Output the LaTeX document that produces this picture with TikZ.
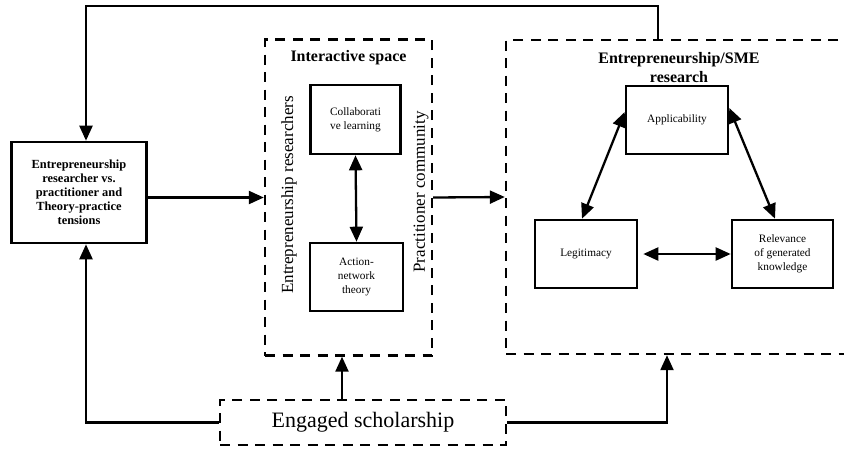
\documentclass[tikz,border=0pt]{standalone}
\usepackage{fontspec}
\setmainfont{Liberation Serif}
\usetikzlibrary{arrows.meta}

\begin{document}
\begin{tikzpicture}[x=1pt, y=-1pt,
	solidbox/.style={draw, line width=2.6pt, align=center, inner sep=2pt, font=\fontsize{11.3}{14}\selectfont},
	dashbox/.style={draw, line width=2.4pt, dash pattern=on 10pt off 7.5pt},
	arr/.style={-{Triangle[length=15pt,width=13pt]}, line width=2.3pt},
	darr/.style={{Triangle[length=15pt,width=13pt]}-{Triangle[length=15pt,width=13pt]}, line width=2.3pt}]
	\useasboundingbox (0,0) rectangle (844,451);
	\clip (0,0) rectangle (844,451);
	\node[solidbox, minimum width=135pt, minimum height=101pt, font=\bfseries\fontsize{12.4}{14}\selectfont] (lft) at (79,192.5) {Entrepreneurship\\researcher vs.\\practitioner and\\Theory-practice\\tensions};
	\node[dashbox, minimum width=167pt, minimum height=316pt] (int) at (348.5,197.5) {};
	\node[font=\bfseries\fontsize{16}{18}\selectfont] (intt) at (348.5,58) {Interactive space};
	\node[rotate=90, font=\fontsize{17}{20}\selectfont] (er) at (289,195) {Entrepreneurship researchers};
	\node[rotate=90, font=\fontsize{17}{20}\selectfont] (pc) at (421,192) {Practitioner community};
	\node[solidbox, minimum width=90pt, minimum height=69pt] (col) at (355.5,119.5) {Collaborati\\ve learning};
	\node[solidbox, minimum width=93pt, minimum height=68pt] (ant) at (356.5,277) {Action-\\network\\theory};
	\node[dashbox, minimum width=394pt, minimum height=314pt] (res) at (703,197) {};
	\node[align=center, font=\bfseries\fontsize{16}{19}\selectfont] (rest) at (679,67.5) {Entrepreneurship/SME\\research};
	\node[solidbox, minimum width=102pt, minimum height=68pt] (app) at (677,120) {Applicability};
	\node[solidbox, minimum width=102pt, minimum height=68pt] (leg) at (586,254) {Legitimacy};
	\node[solidbox, minimum width=101pt, minimum height=68pt] (rel) at (782.5,254) {Relevance\\of generated\\knowledge};
	\node[dashbox, minimum width=286pt, minimum height=45pt, font=\fontsize{22}{26}\selectfont] (eng) at (363,422.5) {Engaged scholarship};
	\coordinate (tr) at (658,6);
	\coordinate (tl) at (86,6);
	\coordinate (eb) at (342,0);
	\coordinate (rb) at (667,0);
	\draw[arr] (tr |- res.north) -- (tr) -- (tl) -- (tl |- lft.north);
	\draw[arr] (lft.east |- int.west) -- (int.west);
	\draw[arr] (int.east) -- (res.west);
	\draw[darr] (col.south) -- (ant.north);
	\draw[darr] ([yshift=8pt]app.west) -- ([xshift=-4pt]leg.north);
	\draw[darr] ([yshift=12pt]app.east) -- ([xshift=-7.5pt]rel.north);
	\draw[darr] ([xshift=5pt]leg.east) -- (rel.west);
	\draw[arr] (eb |- eng.north) -- (eb |- int.south);
	\draw[arr] (eng.east) -| (rb |- res.south);
	\draw[arr] (eng.west) -| (tl |- lft.south);
\end{tikzpicture}
\end{document}
